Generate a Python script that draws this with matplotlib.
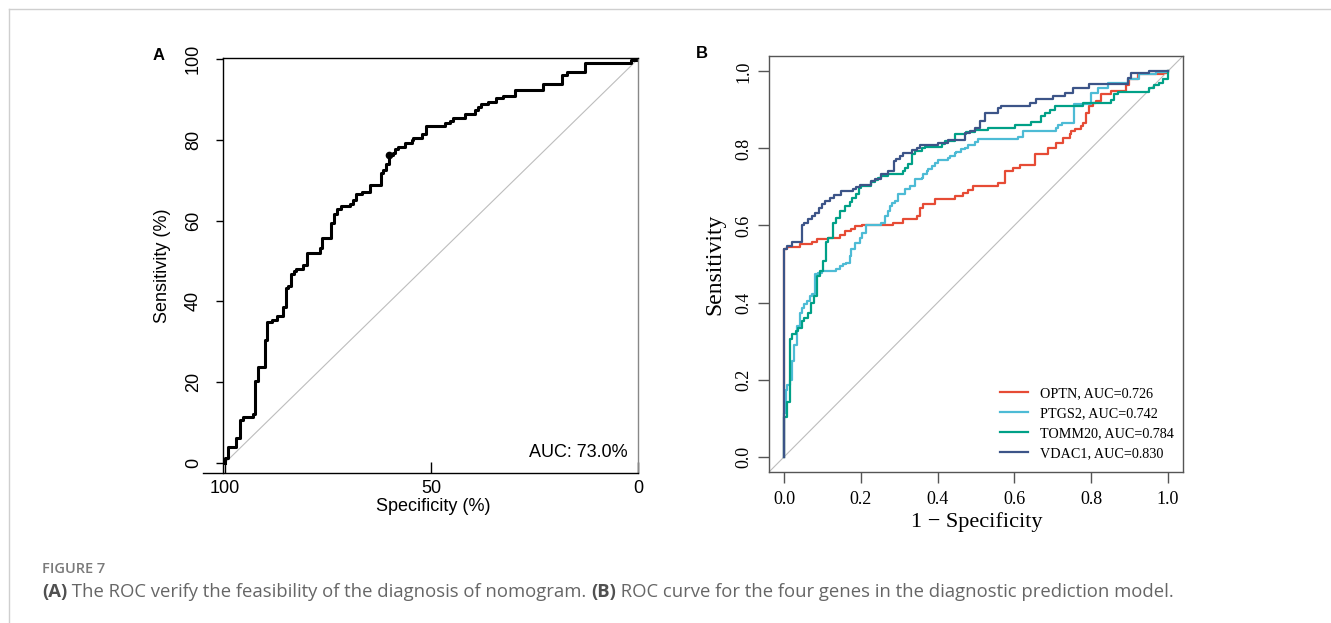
import matplotlib
matplotlib.use("Agg")
import matplotlib.pyplot as plt
from matplotlib.lines import Line2D

# ---- panel A: nomogram ROC (specificity %, sensitivity %) ----
spec_a = [100, 99.2, 97.2, 96.4, 95.6, 93.1, 92.6, 91.9, 90.3, 89.7, 88.7, 87.5,
          86.0, 85.2, 84.7, 83.9, 83.2, 82.7, 81.0, 80.2, 77.0, 76.4, 74.2, 73.5,
          72.8, 71.9, 69.8, 69.0, 68.3, 66.7, 64.9, 62.3, 61.7, 60.9, 60.2, 59.4,
          58.9, 58.1, 56.5, 54.8, 54.4, 52.2, 51.2, 46.8, 45.6, 44.8, 41.9, 39.5,
          38.7, 37.9, 36.3, 34.3, 32.7, 29.8, 23.0, 18.5, 17.3, 12.9, 1.6, 0.0, 0.0]
sens_a = [0, 1.1, 4.0, 6.2, 10.6, 11.4, 12.1, 20.3, 23.8, 30.4, 34.9, 35.5,
          36.3, 38.6, 43.2, 43.8, 46.7, 47.5, 48.1, 49.0, 51.9, 53.3, 55.6, 59.3,
          61.6, 62.8, 63.7, 64.2, 65.1, 66.6, 67.1, 68.8, 71.7, 72.5, 74.0, 76.2,
          76.8, 77.6, 78.1, 79.1, 79.9, 80.5, 81.4, 83.4, 84.2, 84.7, 85.5, 86.4,
          87.4, 88.2, 88.9, 89.4, 90.3, 90.8, 92.3, 93.8, 96.0, 96.7, 99.1, 99.8, 100]
best_a = (60.2, 76.2)
auc_a = "AUC: 73.0%"

# ---- panel B: four genes (1 - specificity, sensitivity) ----
genes = ["OPTN", "PTGS2", "TOMM20", "VDAC1"]
aucs = [0.726, 0.742, 0.784, 0.830]
colors = ["#E64B35", "#4DBBD5", "#00A087", "#3C5488"]

fpr_optn = [0, 0.006, 0.041, 0.071, 0.084, 0.115, 0.145, 0.158, 0.175, 0.184, 0.203,
            0.284, 0.310, 0.345, 0.353, 0.362, 0.392, 0.444, 0.466, 0.479, 0.492,
            0.557, 0.575, 0.596, 0.614, 0.653, 0.688, 0.709, 0.727, 0.744, 0.748,
            0.757, 0.774, 0.779, 0.787, 0.796, 0.805, 0.813, 0.826, 0.852, 0.892,
            0.900, 0.922, 0.988, 1.0, 1.0]
tpr_optn = [0, 0.540, 0.545, 0.551, 0.557, 0.564, 0.568, 0.574, 0.585, 0.592, 0.598,
            0.600, 0.607, 0.616, 0.624, 0.646, 0.655, 0.668, 0.677, 0.685, 0.692,
            0.703, 0.711, 0.742, 0.750, 0.756, 0.785, 0.802, 0.815, 0.828, 0.837,
            0.846, 0.850, 0.859, 0.867, 0.893, 0.911, 0.919, 0.924, 0.941, 0.950,
            0.965, 0.980, 0.993, 0.997, 1.0]

fpr_ptgs2 = [0, 0.004, 0.008, 0.015, 0.019, 0.026, 0.032, 0.041, 0.047, 0.052, 0.058,
             0.067, 0.073, 0.080, 0.089, 0.097, 0.136, 0.145, 0.154, 0.162, 0.171,
             0.175, 0.184, 0.197, 0.203, 0.212, 0.223, 0.253, 0.262, 0.271, 0.275,
             0.280, 0.288, 0.297, 0.314, 0.327, 0.340, 0.358, 0.362, 0.371, 0.375,
             0.384, 0.392, 0.401, 0.427, 0.431, 0.444, 0.449, 0.462, 0.470, 0.479,
             0.497, 0.505, 0.609, 0.622, 0.709, 0.714, 0.724, 0.755, 0.800, 0.818,
             0.844, 0.896, 0.926, 0.970, 1.0, 1.0]
tpr_ptgs2 = [0, 0.113, 0.173, 0.186, 0.199, 0.247, 0.291, 0.338, 0.373, 0.386, 0.395,
             0.403, 0.416, 0.421, 0.473, 0.477, 0.481, 0.487, 0.494, 0.499, 0.503,
             0.520, 0.538, 0.555, 0.568, 0.581, 0.600, 0.600, 0.607, 0.624, 0.637,
             0.650, 0.659, 0.663, 0.681, 0.694, 0.703, 0.720, 0.724, 0.733, 0.742,
             0.746, 0.755, 0.763, 0.770, 0.776, 0.781, 0.788, 0.791, 0.798, 0.802,
             0.808, 0.817, 0.824, 0.831, 0.846, 0.854, 0.860, 0.867, 0.915, 0.945,
             0.956, 0.970, 0.980, 0.993, 0.999, 1.0]

fpr_tomm20 = [0, 0.008, 0.015, 0.021, 0.030, 0.036, 0.045, 0.052, 0.061, 0.069, 0.078,
              0.084, 0.093, 0.102, 0.108, 0.115, 0.128, 0.136, 0.145, 0.158, 0.171,
              0.177, 0.186, 0.194, 0.201, 0.227, 0.236, 0.245, 0.252, 0.271, 0.310,
              0.316, 0.323, 0.332, 0.340, 0.358, 0.366, 0.410, 0.418, 0.444, 0.475,
              0.497, 0.531, 0.579, 0.601, 0.644, 0.670, 0.679, 0.692, 0.705, 0.779,
              0.852, 0.861, 0.870, 0.952, 0.965, 0.978, 0.987, 1.0, 1.0]
tpr_tomm20 = [0, 0.104, 0.143, 0.304, 0.317, 0.325, 0.334, 0.351, 0.360, 0.373, 0.399,
              0.416, 0.468, 0.481, 0.507, 0.557, 0.568, 0.607, 0.620, 0.637, 0.650,
              0.661, 0.672, 0.681, 0.698, 0.703, 0.713, 0.718, 0.724, 0.729, 0.733,
              0.742, 0.750, 0.759, 0.785, 0.794, 0.800, 0.804, 0.811, 0.820, 0.837,
              0.843, 0.847, 0.852, 0.854, 0.860, 0.869, 0.883, 0.891, 0.900, 0.911,
              0.919, 0.926, 0.941, 0.947, 0.956, 0.964, 0.970, 0.980, 1.0]

fpr_vdac1 = [0, 0.006, 0.019, 0.045, 0.052, 0.063, 0.071, 0.080, 0.090, 0.097, 0.106,
             0.119, 0.130, 0.149, 0.180, 0.188, 0.197, 0.227, 0.236, 0.253, 0.271,
             0.286, 0.290, 0.301, 0.310, 0.332, 0.345, 0.353, 0.401, 0.427, 0.470,
             0.484, 0.497, 0.510, 0.523, 0.557, 0.566, 0.640, 0.657, 0.701, 0.731,
             0.753, 0.796, 0.896, 0.905, 0.952, 1.0]
tpr_vdac1 = [0, 0.538, 0.546, 0.557, 0.600, 0.607, 0.616, 0.624, 0.633, 0.645, 0.657,
             0.663, 0.672, 0.678, 0.690, 0.696, 0.701, 0.704, 0.716, 0.720, 0.733,
             0.742, 0.768, 0.772, 0.781, 0.788, 0.795, 0.802, 0.808, 0.815, 0.821,
             0.841, 0.846, 0.854, 0.872, 0.893, 0.904, 0.911, 0.919, 0.928, 0.937,
             0.945, 0.958, 0.967, 0.984, 0.997, 1.0]

fprs = [fpr_optn, fpr_ptgs2, fpr_tomm20, fpr_vdac1]
tprs = [tpr_optn, tpr_ptgs2, tpr_tomm20, tpr_vdac1]

caption_head = "FIGURE 7"
caption_parts = [("(A)", True),
                 (" The ROC verify the feasibility of the diagnosis of nomogram. ", False),
                 ("(B)", True),
                 (" ROC curve for the four genes in the diagnostic prediction model.", False)]

W, H = 1331, 623
fig = plt.figure(figsize=(W / 100, H / 100), dpi=100)
sans = "Liberation Sans"
serif = "Liberation Serif"

# ---------------- panel A ----------------
axA = fig.add_axes([203 / W, 1 - 473 / H, 435 / W, 415 / H])
axA.plot([100, 0], [0, 100], color="#bdbdbd", lw=0.8)
axA.plot(spec_a, sens_a, drawstyle="steps-pre", color="black", lw=2.2)
axA.plot(*best_a, "o", color="black", ms=4.5)
axA.set_xlim(105.3, 0)
axA.set_ylim(-2.5, 100.25)
axA.spines["left"].set_position(("data", 100.5))
axA.spines["top"].set_bounds(0, 100.5)
axA.spines["right"].set_color("#888888")
for s in axA.spines.values():
    s.set_linewidth(1.0)
axA.set_xticks([100, 50, 0])
axA.set_yticks([0, 20, 40, 60, 80, 100])
axA.tick_params(axis="x", direction="in", length=8, width=1, pad=5, labelsize=13)
axA.tick_params(axis="y", direction="out", length=5, width=1, pad=10, labelsize=13,
                labelrotation=90)
for lab in axA.get_xticklabels() + axA.get_yticklabels():
    lab.set_family(sans)
for lab in axA.get_yticklabels():
    lab.set_va("center")
axA.set_xlabel("Specificity (%)", family=sans, fontsize=13, va="center")
axA.set_ylabel("Sensitivity (%)", family=sans, fontsize=13, va="center")
axA.xaxis.set_label_coords(0.529, -0.080)
axA.yaxis.set_label_coords(-0.094, 0.5)
axA.text(2.4, 2.5, auc_a, ha="right", va="center", family=sans, fontsize=13)

# ---------------- panel B ----------------
axB = fig.add_axes([769 / W, 1 - 472 / H, 414 / W, 416 / H])
axB.plot([-0.04, 1.04], [-0.04, 1.04], color="#bdbdbd", lw=0.8)
for g, a, c, fx, ty in zip(genes, aucs, colors, fprs, tprs):
    axB.plot(fx, ty, drawstyle="steps-pre", color=c, lw=1.6,
             label="%s, AUC=%.3f" % (g, a))
axB.set_xlim(-0.04, 1.04)
axB.set_ylim(-0.04, 1.04)
ticks = [0.0, 0.2, 0.4, 0.6, 0.8, 1.0]
axB.set_xticks(ticks)
axB.set_yticks(ticks)
axB.set_xticklabels(["%.1f" % t for t in ticks])
axB.set_yticklabels(["%.1f" % t for t in ticks])
for s in axB.spines.values():
    s.set_color("#555555")
    s.set_linewidth(1.0)
axB.tick_params(axis="both", direction="out", length=8, width=1, color="#555555",
                labelsize=13, pad=6)
axB.tick_params(axis="y", labelrotation=90, pad=4)
for lab in axB.get_xticklabels() + axB.get_yticklabels():
    lab.set_family(serif)
for lab in axB.get_yticklabels():
    lab.set_va("center")
axB.set_xlabel("1 \u2212 Specificity", family=serif, fontsize=16, va="center")
axB.set_ylabel("Sensitivity", family=serif, fontsize=17, va="center")
axB.xaxis.set_label_coords(0.502, -0.120)
axB.yaxis.set_label_coords(-0.130, 0.5)
axB.legend(loc="upper left", bbox_to_anchor=(0.558, 0.205), frameon=False,
           prop={"family": serif, "size": 10.2}, handlelength=1.95, handletextpad=0.9,
           labelspacing=0.5, borderpad=0, borderaxespad=0)

# panel letters
fig.text(159 / W, 1 - 55 / H, "A", family=sans, fontsize=12, weight="bold",
         ha="center", va="center")
fig.text(702 / W, 1 - 54 / H, "B", family=sans, fontsize=12, weight="bold",
         ha="center", va="center")

# card border
fig.add_artist(Line2D([9 / W, 1], [1 - 9 / H, 1 - 9 / H], color="#cfcfcf", lw=1))
fig.add_artist(Line2D([9 / W, 9 / W], [0, 1 - 9 / H], color="#cfcfcf", lw=1))

# caption: regular and bold pieces chained one after the other
fig.text(42 / W, 1 - 569 / H, caption_head, family="Open Sans", fontsize=10.5,
         weight="semibold", color="#7a7a7a", ha="left", va="center")
anchor = fig.text(42 / W, 1 - 592 / H, caption_parts[0][0], family="Open Sans",
                  fontsize=13.3, weight="bold", color="#505050", ha="left", va="center")
for txt, bold in caption_parts[1:]:
    anchor = fig.add_artist(plt.Annotation(txt, xy=(1, 0.5), xycoords=anchor,
                                           va="center", ha="left",
                                           family="Open Sans", fontsize=13.3,
                                           weight="bold" if bold else "normal",
                                           color="#505050" if bold else "#666666",
                                           annotation_clip=False))

fig.savefig("out.png", dpi=100)
